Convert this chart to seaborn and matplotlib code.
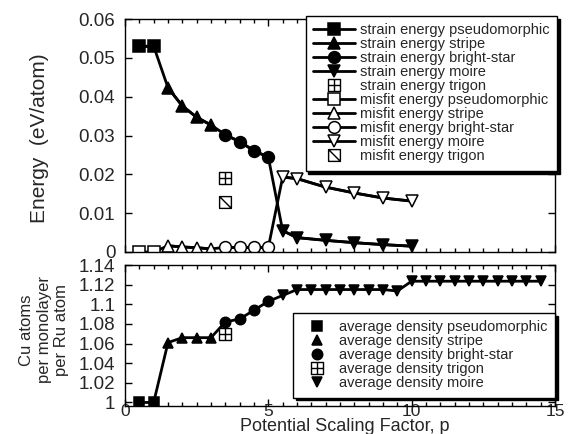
import numpy as np
import pandas as pd
import seaborn as sns
import matplotlib.pyplot as plt
from matplotlib.path import Path
from matplotlib.ticker import MultipleLocator, FormatStrFormatter

# ---- data ----
p_pseudo = [0.5, 1.0]
p_stripe = [1.5, 2.0, 2.5, 3.0]
p_bright = [3.5, 4.0, 4.5, 5.0]
p_trigon = [3.5]
p_moire_e = [5.5, 6.0, 7.0, 8.0, 9.0, 10.0]
p_moire_d = [5.5, 6.0, 6.5, 7.0, 7.5, 8.0, 8.5, 9.0, 9.5, 10.0,
             10.5, 11.0, 11.5, 12.0, 12.5, 13.0, 13.5, 14.0, 14.5]

strain_pseudo = [0.0530, 0.0530]
strain_stripe = [0.0423, 0.0376, 0.0347, 0.0327]
strain_bright = [0.0302, 0.0284, 0.0261, 0.0244]
strain_moire = [0.0055, 0.0037, 0.0030, 0.0024, 0.0019, 0.0015]
strain_trigon = [0.0191]

misfit_pseudo = [0.0, 0.0]
misfit_stripe = [0.0016, 0.0013, 0.0011, 0.0008]
misfit_bright = [0.0012, 0.0012, 0.0012, 0.0012]
misfit_moire = [0.0193, 0.0189, 0.0167, 0.0152, 0.0139, 0.0131]
misfit_trigon = [0.0129]

dens_pseudo = [1.0, 1.0]
dens_stripe = [1.061, 1.066, 1.066, 1.066]
dens_bright = [1.082, 1.085, 1.094, 1.103]
dens_trigon = [1.070]
dens_moire = [1.109, 1.115, 1.115, 1.115, 1.115, 1.115, 1.115, 1.115, 1.1135, 1.1235,
              1.1235, 1.1235, 1.1235, 1.1235, 1.1235, 1.1235, 1.1235, 1.1235, 1.1235]

# trigon markers: boxed plus and boxed diagonal
M, L, C = Path.MOVETO, Path.LINETO, Path.CLOSEPOLY
sq = [(-1, -1), (1, -1), (1, 1), (-1, 1), (-1, -1)]
box_plus = Path(sq + [(0, -1), (0, 1), (-1, 0), (1, 0)],
                [M, L, L, L, C, M, L, M, L])
box_diag = Path(sq + [(-1, 1), (1, -1)], [M, L, L, L, C, M, L])

sns.set_style("ticks", {"xtick.direction": "in", "ytick.direction": "in",
                        "axes.edgecolor": "black"})
plt.rcParams['font.family'] = ['Liberation Sans', 'DejaVu Sans']

fig = plt.figure(figsize=(5.68, 4.34), dpi=100)
W, H = 568, 434
ax1 = fig.add_axes([125 / W, 1 - 252 / H, 430 / W, 233 / H])
ax2 = fig.add_axes([125 / W, 1 - 406 / H, 430 / W, 141 / H], sharex=ax1)


def curve(ax, xs, ys):
    sns.lineplot(x=np.concatenate(xs), y=np.concatenate(ys), ax=ax, color='black',
                 lw=2, sort=False, estimator=None)


def series(ax, x, y, marker, ms, face, label, line=True, mew=1.1):
    sns.lineplot(x=x, y=y, ax=ax, color='black', lw=2,
                 linestyle='-' if line else 'none', marker=marker, markersize=ms,
                 markerfacecolor=face, markeredgecolor='black', markeredgewidth=mew,
                 label=label, sort=False, estimator=None, legend=False)


# top panel: energies
curve(ax1, [p_pseudo, p_stripe, p_bright, p_moire_e],
      [strain_pseudo, strain_stripe, strain_bright, strain_moire])
curve(ax1, [p_pseudo, p_stripe, p_bright, p_moire_e],
      [misfit_pseudo, misfit_stripe, misfit_bright, misfit_moire])

series(ax1, p_pseudo, strain_pseudo, 's', 8.5, 'black', 'strain energy pseudomorphic')
series(ax1, p_stripe, strain_stripe, '^', 8, 'black', 'strain energy stripe')
series(ax1, p_bright, strain_bright, 'o', 8.5, 'black', 'strain energy bright-star')
series(ax1, p_moire_e, strain_moire, 'v', 8, 'black', 'strain energy moire')
series(ax1, p_trigon, strain_trigon, box_plus, 8.5, 'white', 'strain energy trigon', line=False, mew=1)
series(ax1, p_pseudo, misfit_pseudo, 's', 8.5, 'white', 'misfit energy pseudomorphic')
series(ax1, p_stripe, misfit_stripe, '^', 8.5, 'white', 'misfit energy stripe')
series(ax1, p_bright, misfit_bright, 'o', 8.5, 'white', 'misfit energy bright-star')
series(ax1, p_moire_e, misfit_moire, 'v', 8.5, 'white', 'misfit energy moire')
series(ax1, p_trigon, misfit_trigon, box_diag, 8.5, 'white', 'misfit energy trigon', line=False, mew=1)

# bottom panel: density
curve(ax2, [p_pseudo, p_stripe, p_bright, p_moire_d],
      [dens_pseudo, dens_stripe, dens_bright, dens_moire])
series(ax2, p_pseudo, dens_pseudo, 's', 7.5, 'black', 'average density pseudomorphic', line=False)
series(ax2, p_stripe, dens_stripe, '^', 6.5, 'black', 'average density stripe', line=False)
series(ax2, p_bright, dens_bright, 'o', 7.5, 'black', 'average density bright-star', line=False)
series(ax2, p_trigon, dens_trigon, box_plus, 8, 'white', 'average density trigon', line=False, mew=1)
series(ax2, p_moire_d, dens_moire, 'v', 6.5, 'black', 'average density moire', line=False)

# axes styling
for ax in (ax1, ax2):
    ax.set_xlim(0, 15)
    ax.xaxis.set_major_locator(MultipleLocator(5))
    ax.xaxis.set_minor_locator(MultipleLocator(0.5))
    ax.yaxis.set_major_formatter(FormatStrFormatter('%g'))
    ax.tick_params(which='both', direction='in', top=True, right=True,
                   labelsize=13.5, width=1, color='black')
    ax.tick_params(axis='y', pad=7)
    ax.tick_params(axis='x', pad=-1.5, labelsize=12.5)
    ax.tick_params(which='major', length=5)
    ax.tick_params(which='minor', length=3)
    for s in ax.spines.values():
        s.set_visible(True)
        s.set_linewidth(1)
        s.set_color('black')
    ax.set_xlabel('')
    ax.set_ylabel('')

ax1.set_ylim(0, 0.06)
ax1.yaxis.set_major_locator(MultipleLocator(0.01))
ax1.tick_params(labelbottom=False)
ax2.set_ylim(0.9964, 1.14)
ax2.set_yticks([1.0, 1.02, 1.04, 1.06, 1.08, 1.1, 1.12, 1.14])

ax1.set_ylabel('Energy  (eV/atom)', fontsize=15)
ax1.yaxis.set_label_coords(-0.176, 0.49)
ax2.set_ylabel('Cu atoms\nper monolayer\nper Ru atom', fontsize=12, linespacing=1.2)
ax2.yaxis.set_label_coords(-0.13, 0.54)
ax2.set_xlabel('Potential Scaling Factor, p', fontsize=13)
ax2.xaxis.set_label_coords(0.51, -0.088)

leg_kw = dict(fontsize=10.5, labelspacing=0.0, frameon=True, fancybox=False,
              framealpha=1, edgecolor='black', borderaxespad=0, borderpad=0.5,
              shadow={'color': 'black', 'alpha': 1})

h, l = ax1.get_legend_handles_labels()
lg1 = ax1.legend(h, l, loc='upper right', bbox_to_anchor=(1.005, 1.012),
                 handlelength=2.9, handletextpad=0.35, **leg_kw)
lg1.get_frame().set_linewidth(1)

h, l = ax2.get_legend_handles_labels()
lg2 = ax2.legend(h, l, loc='lower right', bbox_to_anchor=(1.0, 0.06),
                 handlelength=2.3, handletextpad=0.35, **leg_kw)
lg2.get_frame().set_linewidth(1)

fig.savefig('out.png', dpi=100)
